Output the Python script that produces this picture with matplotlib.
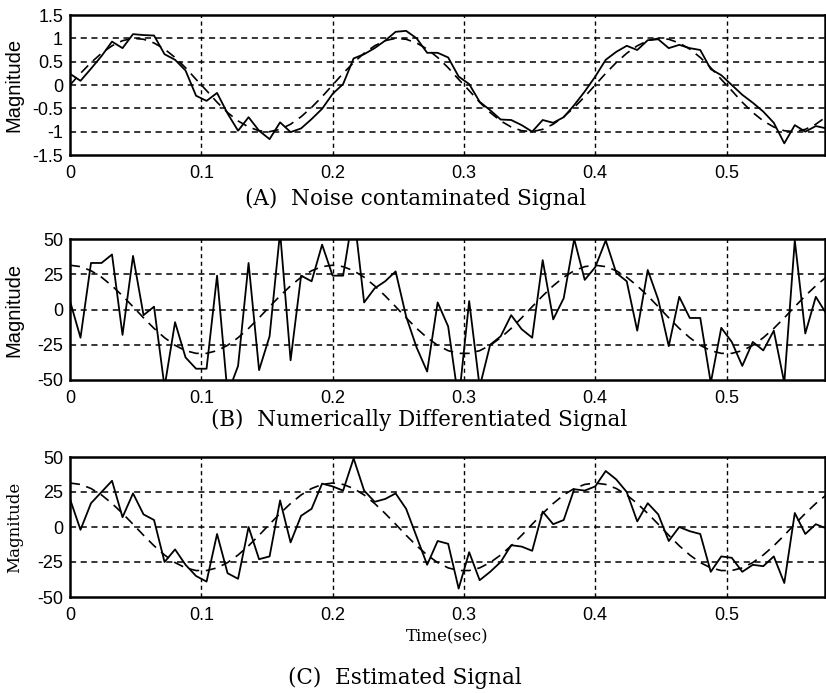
import numpy as np
import matplotlib
matplotlib.use("Agg")
import matplotlib.pyplot as plt

# sample times (dt = 0.008 s, 73 samples)
dt = 0.008
n_samples = 73

# (A) noisy signal and the clean reference (dashed)
noisy_a = [0.24, 0.09, 0.35, 0.62, 0.93, 0.79, 1.09, 1.07, 1.06, 0.66,
           0.54, 0.31, -0.23, -0.34, -0.17, -0.61, -0.98, -0.69, -0.98, -1.16,
           -0.80, -1.01, -0.93, -0.73, -0.51, -0.19, 0.02, 0.57, 0.66, 0.79,
           0.95, 1.14, 1.16, 1.00, 0.69, 0.69, 0.59, 0.18, 0.02, -0.36,
           -0.54, -0.74, -0.75, -0.86, -1.00, -0.75, -0.81, -0.69, -0.43, -0.14,
           0.18, 0.54, 0.71, 0.84, 0.75, 0.96, 0.98, 0.79, 0.86, 0.79,
           0.75, 0.34, 0.21, 0.00, -0.21, -0.38, -0.57, -0.81, -1.25, -0.86,
           -1.00, -0.88, -0.93]
ref_a = [0.00, 0.25, 0.48, 0.68, 0.84, 0.95, 1.00, 0.98, 0.90, 0.77,
         0.59, 0.37, 0.12, -0.12, -0.37, -0.59, -0.77, -0.90, -0.98, -1.00,
         -0.95, -0.84, -0.68, -0.48, -0.25,
         0.00, 0.25, 0.48, 0.68, 0.84, 0.95, 1.00, 0.98, 0.90, 0.77,
         0.59, 0.37, 0.12, -0.12, -0.37, -0.59, -0.77, -0.90, -0.98, -1.00,
         -0.95, -0.84, -0.68, -0.48, -0.25,
         0.00, 0.25, 0.48, 0.68, 0.84, 0.95, 1.00, 0.98, 0.90, 0.77,
         0.59, 0.37, 0.12, -0.12, -0.37, -0.59, -0.77, -0.90, -0.98, -1.00,
         -0.95, -0.84, -0.68]

# (B) numerically differentiated signal
noisy_b = [6, -20, 33, 33, 39, -18, 38, -4, 2, -55,
           -9, -34, -42, -42, 24, -60, -40, 33, -43, -19,
           55, -36, 24, 20, 46, 24, 24, 70, 5, 15,
           20, 27, -5, -27, -44, 5, -12, -65, 6, -55,
           -25, -19, -4, -14, -20, 35, -7, 8, 50, 21,
           30, 49, 26, 20, -15, 28, 7, -26, 9, -6,
           -6, -52, -13, -23, -40, -23, -29, -15, -52, 49,
           -17, 9, -3]

# (C) estimated signal
noisy_c = [20, -2, 17, 25, 33, 7, 24, 9, 5, -25,
           -16, -27, -35, -39, -5, -33, -37, 0, -23, -21,
           19, -11, 8, 13, 31, 29, 26, 49, 26, 18,
           20, 24, 13, -7, -27, -10, -12, -44, -18, -38,
           -32, -25, -13, -14, -17, 11, 2, 5, 27, 26,
           29, 40, 34, 25, 4, 17, 9, -10, 0, -3,
           -5, -32, -21, -22, -32, -27, -28, -21, -40, 10,
           -5, 2, -1]

# true derivative (dashed) for B and C
ref_deriv = [31.4, 30.4, 27.5, 22.9, 16.8, 9.7, 2.0, -5.9, -13.4, -20.0,
             -25.4, -29.2, -31.1, -31.1, -29.2, -25.4, -20.0, -13.4, -5.9, 2.0,
             9.7, 16.8, 22.9, 27.5, 30.4,
             31.4, 30.4, 27.5, 22.9, 16.8, 9.7, 2.0, -5.9, -13.4, -20.0,
             -25.4, -29.2, -31.1, -31.1, -29.2, -25.4, -20.0, -13.4, -5.9, 2.0,
             9.7, 16.8, 22.9, 27.5, 30.4,
             31.4, 30.4, 27.5, 22.9, 16.8, 9.7, 2.0, -5.9, -13.4, -20.0,
             -25.4, -29.2, -31.1, -31.1, -29.2, -25.4, -20.0, -13.4, -5.9, 2.0,
             9.7, 16.8, 22.9]

x_ticks = [0, 0.1, 0.2, 0.3, 0.4, 0.5]
x_ticklabels = ["0", "0.1", "0.2", "0.3", "0.4", "0.5"]
yticks_a = [-1.5, -1, -0.5, 0, 0.5, 1, 1.5]
yticklabels_a = ["-1.5", "-1", "-0.5", "0", "0.5", "1", "1.5"]
yticks_bc = [-50, -25, 0, 25, 50]
yticklabels_bc = ["-50", "-25", "0", "25", "50"]

captions = ["(A)  Noise contaminated Signal",
            "(B)  Numerically Differentiated Signal",
            "(C)  Estimated Signal"]

t = np.arange(n_samples) * dt

W, H = 826, 693
fig = plt.figure(figsize=(W / 100, H / 100), dpi=100)


def px_axes(left, top, right, bottom):
    return fig.add_axes([left / W, 1 - bottom / H, (right - left) / W, (bottom - top) / H])


ax_a = px_axes(70, 15, 825, 155)
ax_b = px_axes(70, 239, 825, 380)
ax_c = px_axes(70, 457, 825, 597)

panels = [
    (ax_a, noisy_a, ref_a, (-1.5, 1.5), yticks_a, yticklabels_a),
    (ax_b, noisy_b, ref_deriv, (-50, 50), yticks_bc, yticklabels_bc),
    (ax_c, noisy_c, ref_deriv, (-50, 50), yticks_bc, yticklabels_bc),
]

for ax, noisy, ref, ylim, yt, ytl in panels:
    ax.plot(t, noisy, color="black", lw=1.3, zorder=3)
    ax.plot(t, ref, color="black", lw=1.2, dashes=(6, 4), zorder=3)
    ax.set_xlim(0, 0.575)
    ax.set_ylim(*ylim)
    ax.set_xticks(x_ticks)
    ax.set_xticklabels(x_ticklabels, family="Liberation Sans", fontsize=13)
    ax.set_yticks(yt)
    ax.set_yticklabels(ytl, family="Liberation Sans", fontsize=13)
    ax.tick_params(axis="y", length=0, pad=5)
    ax.tick_params(axis="x", length=0, pad=7)
    for y in yt[1:-1]:
        ax.axhline(y, color="black", lw=1.1, dashes=(4, 3), zorder=1)
    for x in x_ticks[1:]:
        ax.axvline(x, color="black", lw=1.0, dashes=(3, 2.5), zorder=1)
    for sp in ax.spines.values():
        sp.set_linewidth(1.8)

ax_a.set_ylabel("Magnitude", family="Liberation Sans", fontsize=14.5)
ax_b.set_ylabel("Magnitude", family="Liberation Sans", fontsize=14.5)
ax_c.set_ylabel("Magnitude", family="DejaVu Serif", fontsize=12)
for ax in (ax_a, ax_b, ax_c):
    ax.yaxis.set_label_coords(-0.062, 0.5)

ax_c.set_xlabel("Time(sec)", family="DejaVu Serif", fontsize=12, labelpad=3)

fig.text(416 / W, 1 - 199 / H, captions[0], family="DejaVu Serif", fontsize=15.5, ha="center", va="center")
fig.text(419 / W, 1 - 420 / H, captions[1], family="DejaVu Serif", fontsize=15.5, ha="center", va="center")
fig.text(405 / W, 1 - 678 / H, captions[2], family="DejaVu Serif", fontsize=15.5, ha="center", va="center")

fig.savefig("out.png", dpi=100)
plt.close("all")
